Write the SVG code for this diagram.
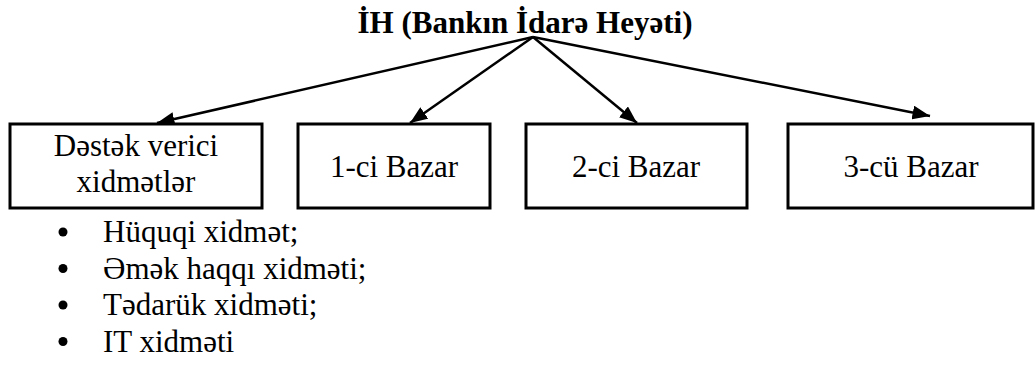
<svg xmlns="http://www.w3.org/2000/svg" width="1035" height="365" viewBox="0 0 1035 365">
<style>
text{font-family:"Liberation Serif","Times New Roman",serif;fill:#000}
.title{font-size:31px;font-weight:bold}
.lbl{font-size:31px;text-anchor:middle}
.item{font-size:31px}
.box{fill:#fff;stroke:#000;stroke-width:3}
.conn{stroke:#000;stroke-width:2.5;fill:none;marker-end:url(#ah)}
</style>
<defs>
<marker id="ah" markerWidth="7" markerHeight="5.6" refX="7" refY="2.8" orient="auto" markerUnits="strokeWidth">
<path d="M0,0 L7,2.8 L0,5.6 z" fill="#000"/>
</marker>
</defs>
<g id="title"><text class="title" x="525" y="33" text-anchor="middle">İH (Bankın İdarə Heyəti)</text></g>
<g id="connectors">
<line class="conn" x1="533" y1="37" x2="157" y2="123"/>
<line class="conn" x1="533" y1="37" x2="410" y2="123"/>
<line class="conn" x1="533" y1="37" x2="637" y2="123"/>
<line class="conn" x1="533" y1="37" x2="930" y2="116"/>
</g>
<g id="node-destek">
<rect class="box" x="10" y="124" width="252" height="84"/>
<text class="lbl" x="136" y="156">Dəstək verici</text>
<text class="lbl" x="136" y="192">xidmətlər</text>
</g>
<g id="node-bazar1">
<rect class="box" x="298" y="124" width="192" height="84"/>
<text class="lbl" x="394" y="177">1-ci Bazar</text>
</g>
<g id="node-bazar2">
<rect class="box" x="526" y="124" width="221" height="84"/>
<text class="lbl" x="636" y="177">2-ci Bazar</text>
</g>
<g id="node-bazar3">
<rect class="box" x="788" y="124" width="245" height="84"/>
<text class="lbl" x="911" y="177">3-cü Bazar</text>
</g>
<g id="list">
<circle cx="63" cy="232" r="4.5"/>
<text class="item" x="103" y="242">Hüquqi xidmət;</text>
<circle cx="63" cy="268.5" r="4.5"/>
<text class="item" x="103" y="278.5">Əmək haqqı xidməti;</text>
<circle cx="63" cy="305" r="4.5"/>
<text class="item" x="103" y="315">Tədarük xidməti;</text>
<circle cx="63" cy="341.5" r="4.5"/>
<text class="item" x="103" y="351.5">IT xidməti</text>
</g>
</svg>
